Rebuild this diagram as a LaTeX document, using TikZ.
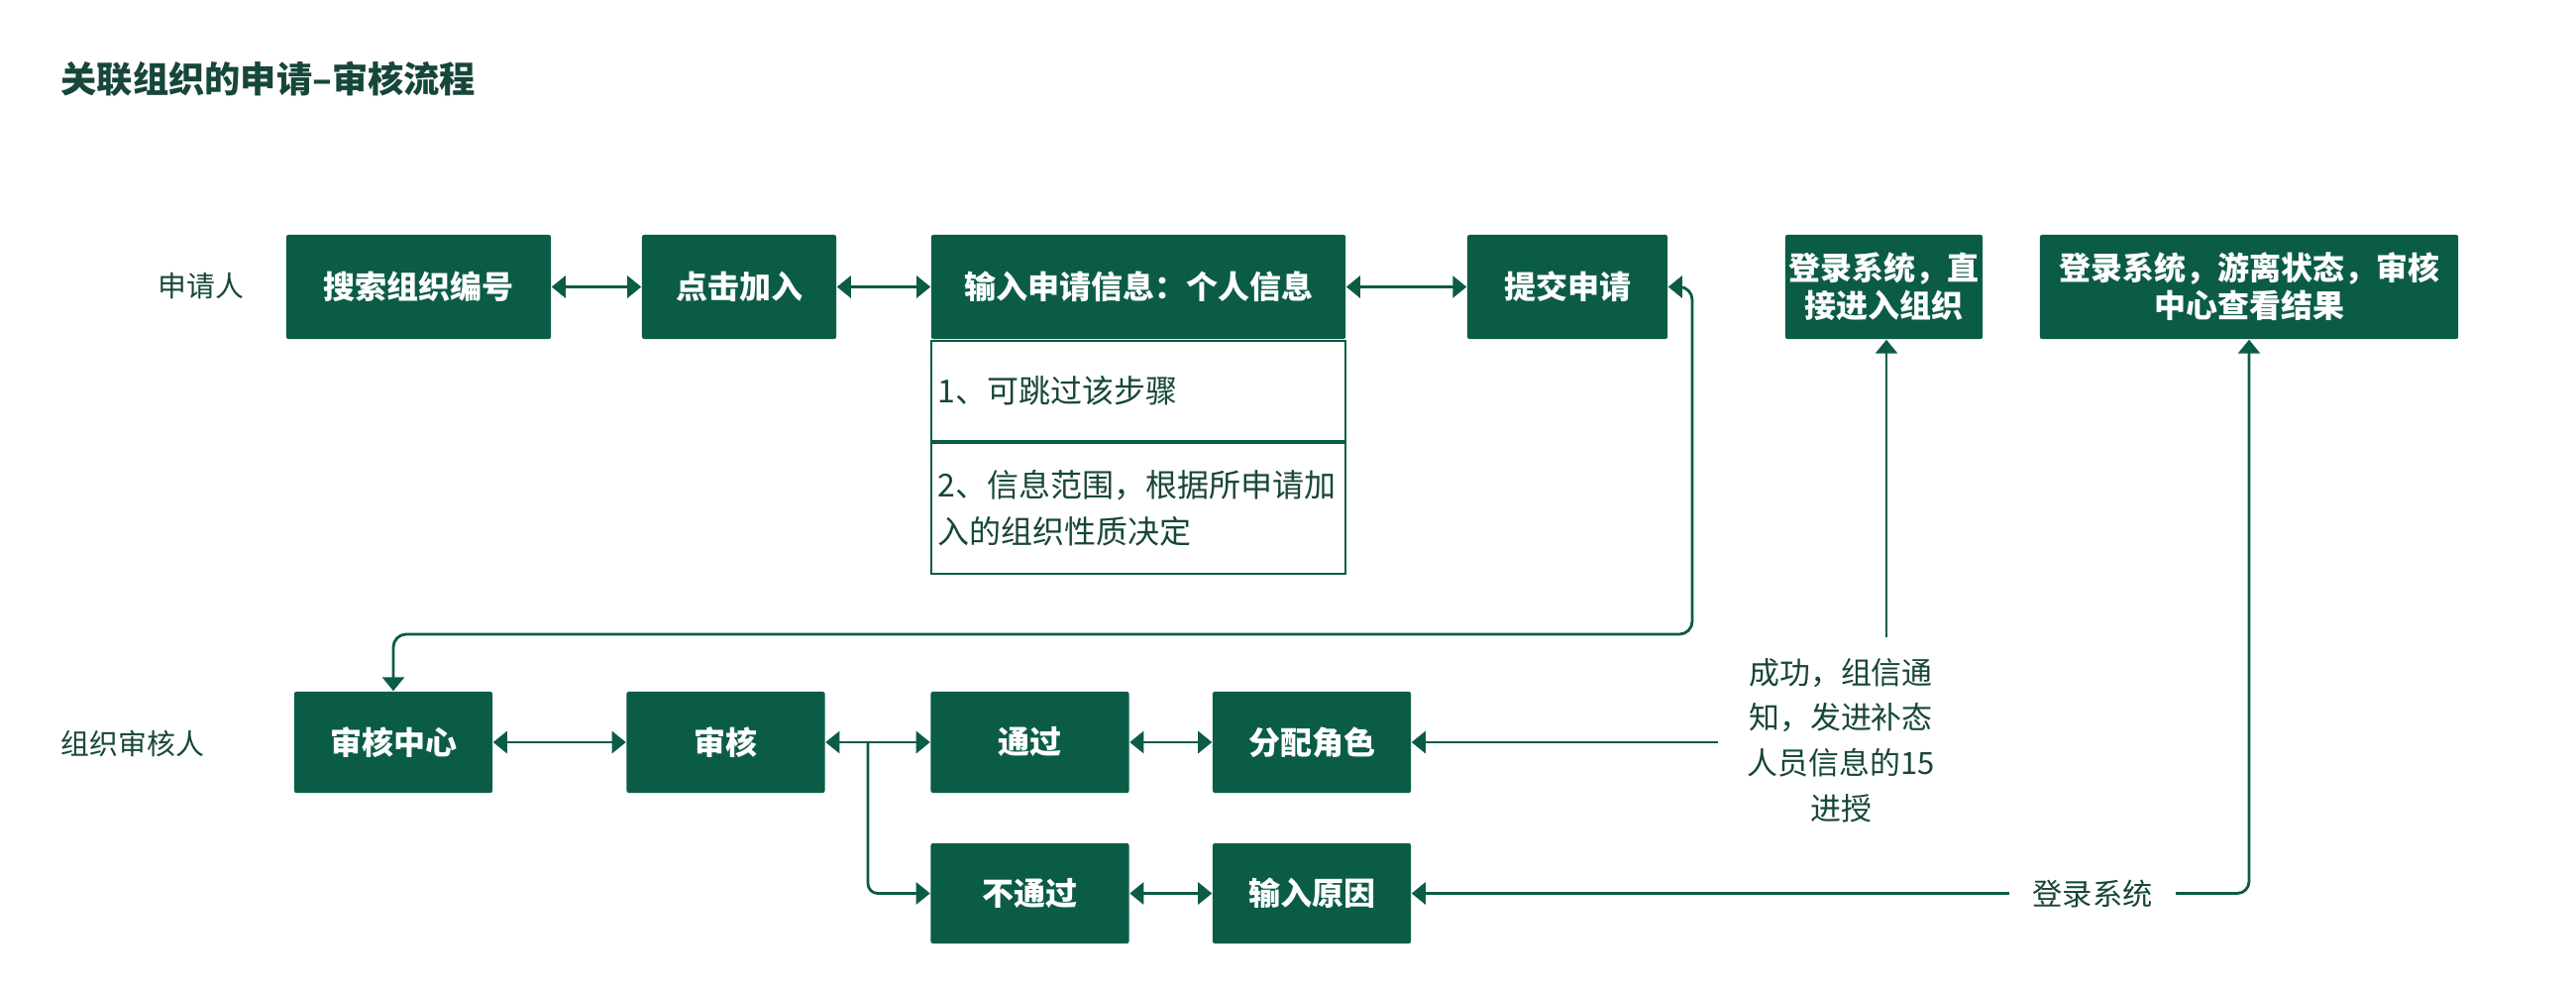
\documentclass[tikz,border=0pt]{standalone}
\usepackage{fontspec}
\setmainfont{Noto Sans CJK SC}
\usetikzlibrary{arrows.meta}
\definecolor{gfill}{HTML}{0B5C46}
\definecolor{gtext}{HTML}{17463A}
\begin{document}
\begin{tikzpicture}[x=0.01cm,y=-0.01cm,
  gbox/.style={fill=gfill, text=white, rounded corners=0.6pt,
    font=\bfseries\fontsize{9.1pt}{10.8pt}\selectfont,
    minimum width=2cm, minimum height=1.05cm, inner sep=0pt, align=center},
  notebox/.style={draw=gfill, line width=0.55pt, fill=white, text=gtext,
    font=\fontsize{9.1pt}{13.1pt}\selectfont,
    minimum width=4.18cm, text width=4.04cm, inner xsep=0.07cm, inner ysep=0pt, align=left},
  conn/.style={draw=gfill, line width=0.8pt},
  tip/.style={-{Triangle[width=0.22cm,length=0.14cm]}},
  both/.style={{Triangle[width=0.22cm,length=0.14cm]}-{Triangle[width=0.22cm,length=0.14cm]}},
  lbl/.style={text=gtext, inner sep=0pt, align=center},
]
\useasboundingbox[fill=white] (0,0) rectangle (2600,1000);

% title and row labels
\node[lbl, anchor=west, font=\bfseries\fontsize{10.3pt}{12pt}\selectfont] (title) at (61,80) {关联组织的申请–审核流程};
\node[lbl, anchor=west, font=\fontsize{8.2pt}{10pt}\selectfont] (applicant) at (159,289) {申请人};
\node[lbl, anchor=west, font=\fontsize{8.2pt}{10pt}\selectfont] (reviewer) at (61,750) {组织审核人};

% top row
\node[gbox, minimum width=2.67cm] (search) at (422.5,289.5) {搜索组织编号};
\node[gbox, minimum width=1.96cm] (click) at (746,289.5) {点击加入};
\node[gbox, minimum width=4.18cm] (input) at (1149,289.5) {输入申请信息：个人信息};
\node[notebox, minimum height=1.01cm, anchor=north] (note1) at (input.south) {1、可跳过该步骤};
\node[notebox, minimum height=1.32cm, anchor=north] (note2) at (note1.south) {2、信息范围，根据所申请加\\入的组织性质决定};
\node[gbox, minimum width=2.02cm] (submit) at (1582,289.5) {提交申请};
\node[gbox, minimum width=1.99cm] (login1) at (1901.5,289.5) {登录系统，直\\接进入组织};
\node[gbox, minimum width=4.22cm] (login2) at (2270,289.5) {登录系统，游离状态，审核\\中心查看结果};

% bottom rows
\node[gbox, minimum height=1.02cm] (center) at (397,749) {审核中心};
\node[gbox, minimum height=1.02cm] (review) at (732.5,749) {审核};
\node[gbox, minimum height=1.02cm] (pass) at (1039.5,749) {通过};
\node[gbox, minimum height=1.02cm] (assign) at (1324,749) {分配角色};
\node[gbox, minimum height=1.01cm] (fail) at (1039.5,901.5) {不通过};
\node[gbox, minimum height=1.01cm] (reason) at (1324,901.5) {输入原因};

% labels on the right
\node[lbl, font=\fontsize{8.8pt}{13pt}\selectfont, inner xsep=0.29cm] (succ) at (1858,747) {成功，组信通\\知，发进补态\\人员信息的15\\进授};
\node[lbl, font=\fontsize{8.6pt}{10pt}\selectfont, inner xsep=0.23cm] (login3) at (2112,901.5) {登录系统};

% top row connectors
\draw[conn, both] (search.east) -- (click.west);
\draw[conn, both] (click.east) -- (input.west);
\draw[conn, both] (input.east) -- (submit.west);
\coordinate (loopturn) at (1708,640);
\draw[conn, both, rounded corners=0.13cm] (submit.east) -| (loopturn) -| (center.north);

% bottom row connectors
\draw[conn, both] (center.east) -- (review.west);
\draw[conn, both] (review.east) -- (pass.west);
\coordinate (branch) at (876,749);
\draw[conn, tip, rounded corners=0.1cm] (branch) |- (fail.west);
\draw[conn, both] (pass.east) -- (assign.west);
\draw[conn, both] (fail.east) -- (reason.west);

% right side connectors
\draw[conn, tip] (succ.west |- assign.east) -- (assign.east);
\coordinate (succtop) at (1904,643);
\draw[conn, tip] (succtop) -- (succtop |- login1.south);
\draw[conn, tip] (login3.west) -- (reason.east);
\draw[conn, tip, rounded corners=0.12cm] (login3.east) -| (login2.south);
\end{tikzpicture}
\end{document}
